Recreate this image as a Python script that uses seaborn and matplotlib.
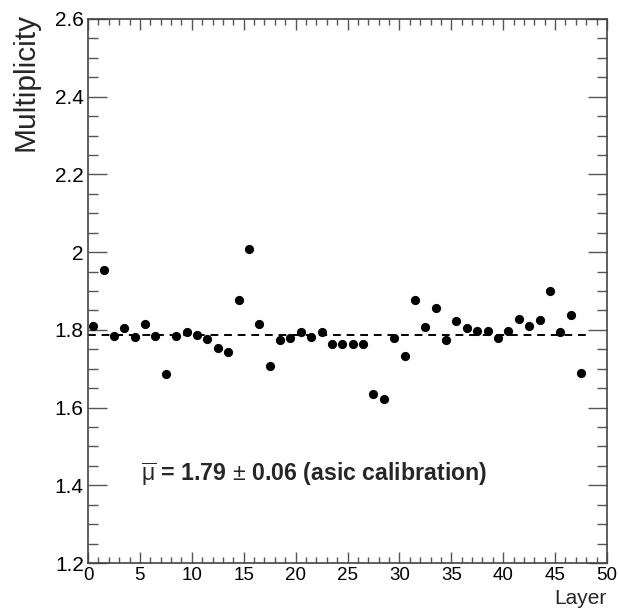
#Multiplicity per layer plot (ROOT style)

import pandas as pd
import seaborn as sns
import matplotlib.pyplot as plt
from matplotlib.ticker import MultipleLocator

#Data
layers = list(range(48))
multiplicity = [1.809, 1.953, 1.783, 1.805, 1.781, 1.816, 1.785, 1.687,
                1.784, 1.794, 1.786, 1.776, 1.752, 1.743, 1.878, 2.007,
                1.814, 1.707, 1.775, 1.779, 1.795, 1.782, 1.794, 1.763,
                1.764, 1.764, 1.763, 1.636, 1.623, 1.778, 1.732, 1.877,
                1.808, 1.856, 1.775, 1.823, 1.805, 1.796, 1.798, 1.778,
                1.796, 1.829, 1.810, 1.826, 1.900, 1.794, 1.837, 1.689]
mean_value = 1.786
mean_range = [0, 48]
mean_text = r"$\overline{\mathrm{\mu}}$" + " = 1.79 $\\pm$ 0.06 (asic calibration)"

df = pd.DataFrame({"layer": [l + 0.5 for l in layers], "mult": multiplicity})

sns.set_style("ticks")
plt.rcParams['font.family'] = ['Liberation Sans', 'DejaVu Sans']
plt.rcParams['mathtext.fontset'] = 'custom'
plt.rcParams['mathtext.rm'] = 'Liberation Sans'
plt.rcParams['mathtext.it'] = 'Liberation Sans:italic'
plt.rcParams['mathtext.bf'] = 'Liberation Sans:bold'

fig = plt.figure(figsize=(6.18, 6.10), dpi=100)
ax = fig.add_axes([0.1424, 0.077, 0.8398, 0.892])

sns.scatterplot(data=df, x="layer", y="mult", color="black", marker="o",
                s=44, edgecolor="black", linewidth=0, ax=ax, zorder=3)
ax.hlines(mean_value, mean_range[0], mean_range[1], colors="black",
          linestyles=(0, (4, 3)), linewidth=1.4)

ax.set_xlim(0, 50)
ax.set_ylim(1.2, 2.6)
ax.xaxis.set_major_locator(MultipleLocator(5))
ax.xaxis.set_minor_locator(MultipleLocator(1))
ax.yaxis.set_major_locator(MultipleLocator(0.2))
ax.yaxis.set_minor_locator(MultipleLocator(0.05))
ax.set_yticks([1.2, 1.4, 1.6, 1.8, 2.0, 2.2, 2.4, 2.6])
ax.set_yticklabels(["1.2", "1.4", "1.6", "1.8", "2", "2.2", "2.4", "2.6"])

ax.tick_params(axis="both", which="both", direction="in", top=True, right=True,
               colors="#555555", labelcolor="black", width=1)
ax.tick_params(axis="x", which="major", length=8, pad=3, labelsize=13.5)
ax.tick_params(axis="x", which="minor", length=4)
ax.tick_params(axis="y", which="major", length=14, pad=3, labelsize=15)
ax.tick_params(axis="y", which="minor", length=7)
for sp in ax.spines.values():
    sp.set_color("#444444")
    sp.set_linewidth(1.2)

ax.set_xlabel("")
ax.set_ylabel("")
fig.text(0.982, 0.003, "Layer", ha="right", va="bottom", fontsize=15)
fig.text(0.041, 0.979, "Multiplicity", rotation=90, ha="center", va="top", fontsize=21.5)

ax.text(5.1, 1.43, mean_text, fontsize=16.7, fontweight="bold", va="center", ha="left")

fig.savefig("out.png", dpi=100)
